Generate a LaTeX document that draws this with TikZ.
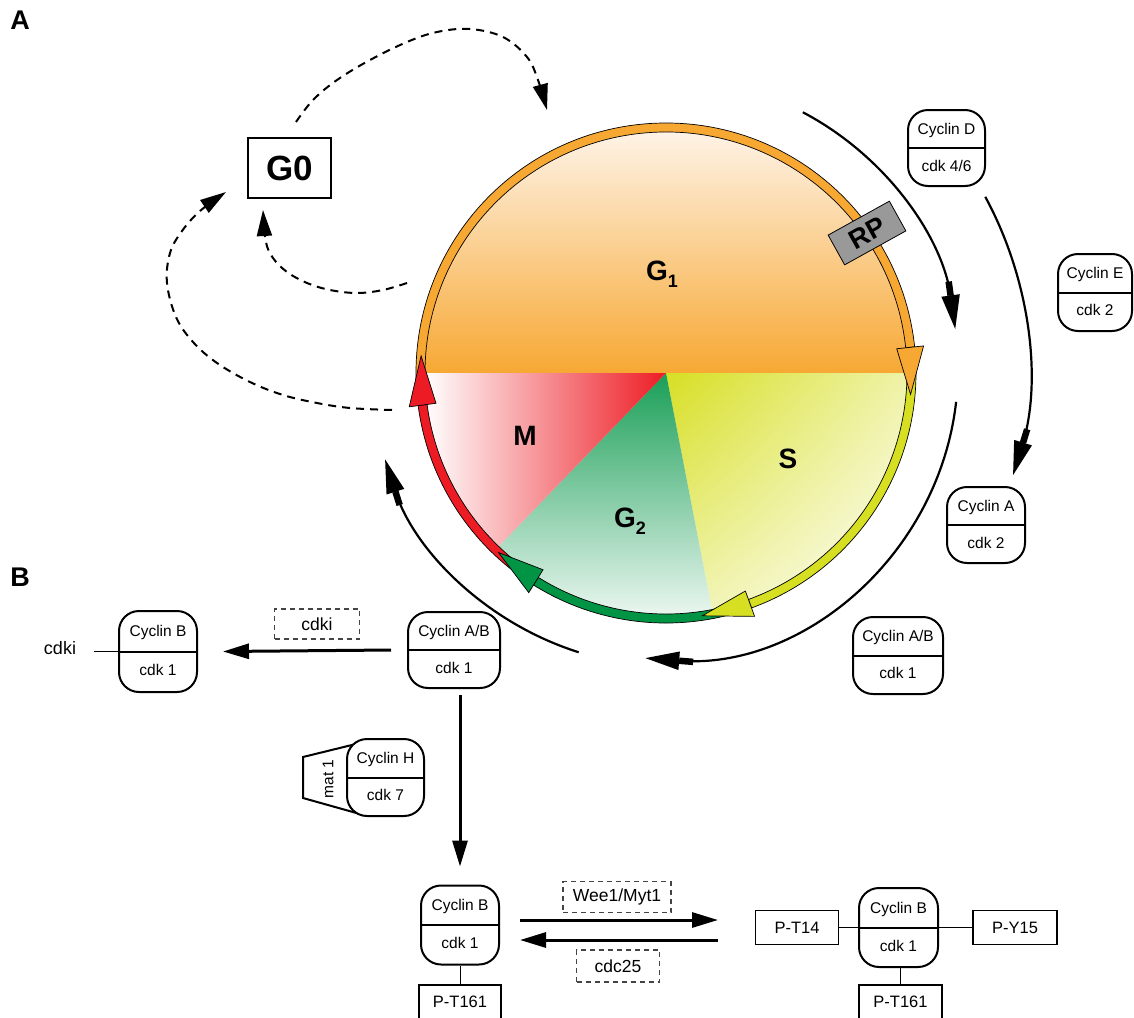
\documentclass[tikz,border=0pt]{standalone}
\usepackage{fontspec}
\setmainfont{Liberation Sans}
\usetikzlibrary{arrows.meta,calc,shadings}
\definecolor{orng}{HTML}{F7A833}
\definecolor{orngL}{HTML}{FEF3E6}
\definecolor{ylw}{HTML}{D7DF23}
\definecolor{grn}{HTML}{009444}
\definecolor{rd}{HTML}{ED1C24}
\definecolor{rpgray}{HTML}{999999}
\definecolor{dgray}{HTML}{444444}
\newcommand\cycbox[7]{%
  \node[cyc, minimum width=#4pt, minimum height=#5pt] (#1) at (#2,-#3) {};
  \draw[divl] (#1.west) -- (#1.east);
  \node[ctext] (#1t) at ([yshift=0.23*#5pt]#1.center) {#6};
  \node[ctext] (#1b) at ([yshift=-0.23*#5pt]#1.center) {#7};
}
\newcommand\ringseg[3]{%
  \filldraw[fill=#1, ring] ($(C)+(#2:250)$) arc (#2:#3:250) -- ($(C)+(#3:241)$) arc (#3:#2:241) -- cycle;
}
\newcommand\ringhead[3]{%
  \filldraw[fill=#1, ring] ($(C)+(#2:232)$) -- ($(C)+(#3:245.5)$) -- ($(C)+(#2:259)$) -- cycle;
}
\begin{document}
\begin{tikzpicture}[x=1pt,y=1pt,
  cyc/.style={draw, line width=2pt, rounded corners=20pt, fill=white, inner sep=0pt},
  divl/.style={line width=2pt},
  ctext/.style={font=\fontsize{15.5}{18}\selectfont, inner sep=0pt},
  pbox/.style={draw, line width=1.2pt, fill=white, minimum width=83pt, minimum height=34pt, font=\fontsize{16.5}{19}\selectfont, inner sep=0pt},
  dbox/.style={draw=dgray, dash pattern=on 5pt off 4pt, line width=1.1pt, font=\fontsize{17.5}{20}\selectfont, inner sep=0pt},
  bigarrow/.style={line width=3pt, -{Triangle[length=26pt,width=15pt]}},
  orbit/.style={line width=2.2pt, -{Rectangle[length=14pt,width=6.5pt] Triangle[length=34pt,width=18pt]}},
  gdash/.style={line width=2pt, dash pattern=on 8pt off 6pt, -{Triangle[length=26pt,width=15pt]}},
  ring/.style={draw=black, line width=0.7pt},
  phase/.style={font=\bfseries\fontsize{28}{30}\selectfont, inner sep=0pt},
  conn/.style={line width=1pt},
]
\useasboundingbox (0,0) rectangle (1134,-1017);

% panel labels
\node[font=\bfseries\fontsize{27}{28}\selectfont] (labA) at (20,-20) {A};
\node[font=\bfseries\fontsize{27}{28}\selectfont] (labB) at (20,-577) {B};

% ---------- cycle ----------
\coordinate (C) at (666,-373);
\coordinate (O) at (668,-369);

\shade[top color=orngL, bottom color=orng] (C) -- ++(0:241) arc (0:180:241) -- cycle;
\shade[upper left=ylw, upper right=ylw!40!white, lower left=ylw!40!white, lower right=white] (C) -- ++(0:241) arc (0:-79:241) -- cycle;
\shade[top color=grn!90!white, bottom color=grn!5!white] (C) -- ++(-79:241) arc (-79:-134:241) -- cycle;
\shade[left color=white, right color=rd] (C) -- ++(-134:241) arc (-134:-180:241) -- cycle;

\ringseg{orng}{182}{6}
\ringseg{ylw}{0}{-70}
\ringseg{grn}{-76}{-122}
\ringseg{rd}{-128}{-172.5}
\ringhead{orng}{6}{-5}
\ringhead{ylw}{-70}{-81.5}
\ringhead{grn}{-122}{-133}
\ringhead{rd}{-172.5}{-184}

\node[draw, line width=0.8pt, fill=rpgray, minimum width=70pt, minimum height=34pt, rotate=29, inner sep=0pt, font=\bfseries\fontsize{27}{28}\selectfont] (RP) at (867,-233) {RP};

\node[phase] (G1) at (662,-274) {G\raisebox{-7pt}{\fontsize{18}{18}\selectfont 1}};
\node[phase] (M) at (525,-436) {M};
\node[phase] (S) at (788,-459) {S};
\node[phase] (G2) at (630,-521) {G\raisebox{-7pt}{\fontsize{18}{18}\selectfont 2}};

% outer arcs
\draw[orbit] ($(O)+(62.3:290)$) arc (62.3:7.9:290);
\draw[orbit] ($(O)+(-6.5:290)$) arc (-6.5:-94.5:290);
\draw[orbit] ($(O)+(-107.5:297)$) arc (-107.5:-162.3:297);
\draw[orbit] ($(O)+(28.5:361)$) arc (28.5:-17.1:361);

% cyclins around the cycle
\cycbox{cycD}{946.5}{148}{77}{76}{Cyclin D}{cdk 4/6}
\cycbox{cycE}{1095}{292.5}{74}{77}{Cyclin E}{cdk 2}
\cycbox{cycA}{986}{525}{78}{76}{Cyclin A}{cdk 2}
\cycbox{cycABr}{898}{655.5}{90}{77}{Cyclin A/B}{cdk 1}

% G0
\node[draw, line width=1.3pt, minimum width=83pt, minimum height=60pt, inner sep=0pt, font=\bfseries\fontsize{35}{36}\selectfont] (G0) at (289.5,-168) {G0};
\coordinate (d1s) at (296,-122);
\coordinate (d1e) at (547,-110);
\draw[gdash] plot[smooth, tension=0.6] coordinates {(d1s) (313,-100) (337,-80) (370,-60) (407,-42) (437,-32) (470,-29) (503,-37) (527,-57) (538,-80) (d1e)};
\coordinate (d2s) at (407,-283);
\coordinate (d2e) at (263,-210);
\draw[gdash] plot[smooth, tension=0.6] coordinates {(d2s) (383,-290) (357,-293) (330,-290) (307,-283) (287,-272) (273,-258) (266,-242) (d2e)};
\coordinate (d3s) at (392,-410);
\coordinate (d3e) at (226,-192);
\draw[gdash] plot[smooth, tension=0.6] coordinates {(d3s) (350,-408) (317,-403) (283,-395) (250,-382) (217,-363) (193,-342) (176,-317) (167,-283) (170,-253) (182,-231) (200,-211) (d3e)};

% ---------- panel B ----------
\cycbox{cycB1}{158}{651.5}{78}{81}{Cyclin B}{cdk 1}
\cycbox{cycAB2}{454}{650}{92}{76}{Cyclin A/B}{cdk 1}
\node[font=\fontsize{18}{20}\selectfont, inner sep=0pt] (cdkiL) at (60,-648) {cdki};
\draw[conn] ([xshift=18pt]cdkiL.east |- cycB1.west) -- (cycB1.west);
\node[dbox, minimum width=85pt, minimum height=30pt] (cdkiD) at (317,-624) {cdki};
\draw[bigarrow] ([xshift=-16pt]cycAB2.west) -- ([xshift=25pt]cycB1.east);

% mat1 / cyclin H
\coordinate (m1) at (303,-757);
\coordinate (m2) at (360,-743);
\coordinate (m3) at (360,-814);
\coordinate (m4) at (303,-798);
\draw[line width=2pt, fill=white] (m1) -- (m2) -- (m3) -- (m4) -- cycle;
\node[ctext, rotate=90] (mat) at (328,-779) {mat 1};
\cycbox{cycH}{385.5}{777.5}{77}{77}{Cyclin H}{cdk 7}

% bottom row
\cycbox{cycB3}{460}{925}{78}{79}{Cyclin B}{cdk 1}
\cycbox{cycB4}{898.5}{927.5}{79}{79}{Cyclin B}{cdk 1}
\coordinate (v1) at (460,-695);
\draw[bigarrow] (v1) -- ([yshift=18pt]cycB3.north);

\node[pbox, minimum width=82pt, minimum height=34pt] (pt161a) at (460,-1002) {P-T161};
\node[pbox] (pt14) at (797,-927.5) {P-T14};
\node[pbox, minimum width=84pt] (py15) at (1015,-927.5) {P-Y15};
\node[pbox] (pt161b) at (900.5,-1002) {P-T161};
\draw[conn] (cycB3.south) -- (cycB3.south |- pt161a.north);
\draw[conn] (pt14.east) -- (cycB4.west);
\draw[conn] (cycB4.east) -- (py15.west);
\draw[conn] (cycB4.south -| pt161b.north) -- (pt161b.north);

\coordinate (r1) at (520,-920);
\coordinate (r2) at (718,-920);
\coordinate (l1) at (718,-940);
\coordinate (l2) at (520,-940);
\draw[bigarrow] (r1) -- (r2);
\draw[bigarrow] (l1) -- (l2);
\node[dbox, minimum width=108pt, minimum height=31pt] (wee) at (617,-897) {Wee1/Myt1};
\node[dbox, minimum width=83pt, minimum height=32pt] (cdc) at (618,-966) {cdc25};
\end{tikzpicture}
\end{document}
